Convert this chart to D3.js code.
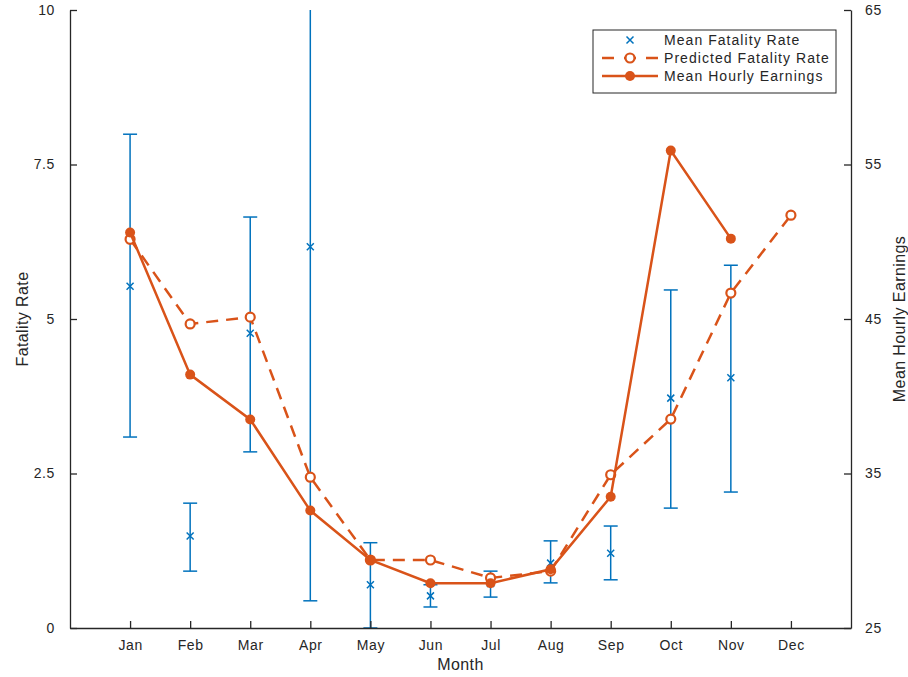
<!DOCTYPE html>
<html>
<head>
<meta charset="utf-8">
<script src="https://cdn.jsdelivr.net/npm/d3@7"></script>
<style>
  html, body { margin: 0; padding: 0; background: #fff; }
  svg { display: block; }
  text { font-family: "Liberation Sans", Arial, sans-serif; fill: #262626; }
</style>
</head>
<body>
<svg id="chart" width="908" height="677"></svg>
<script>
// Monthly series
const months = ["Jan","Feb","Mar","Apr","May","Jun","Jul","Aug","Sep","Oct","Nov","Dec"];

// Mean fatality rate with lower / upper error limits (left axis)
const meanFatality  = [5.53, 1.49, 4.77, 6.17, 0.70, 0.52, 0.72, 1.05, 1.21, 3.72, 4.05, null];
const fatalityLow   = [3.09, 0.92, 2.85, 0.44, 0.00, 0.34, 0.50, 0.73, 0.78, 1.94, 2.20, null];
const fatalityHigh  = [7.99, 2.02, 6.65, 11.9, 1.38, 0.70, 0.92, 1.41, 1.65, 5.47, 5.87, null];

// Predicted fatality rate (left axis)
const predictedFatality = [6.29, 4.92, 5.03, 2.44, 1.10, 1.10, 0.81, 0.92, 2.48, 3.38, 5.42, 6.68];

// Mean hourly earnings (right axis)
const hourlyEarnings = [50.6, 41.4, 38.5, 32.6, 29.4, 27.9, 27.9, 28.8, 33.5, 55.9, 50.2, null];

const leftTicks  = [0, 2.5, 5, 7.5, 10];
const rightTicks = [25, 35, 45, 55, 65];

const blue = "#0072BD";
const orange = "#D95319";

const svg = d3.select("#chart");
const margin = { left: 70, right: 57, top: 10, bottom: 49 };
const W = 908, H = 677;
const x0 = margin.left, x1 = W - margin.right;
const y0 = H - margin.bottom, y1 = margin.top;

const x = d3.scaleLinear().domain([0, 13]).range([x0, x1]);
const yL = d3.scaleLinear().domain([0, 10]).range([y0, y1]);
const yR = d3.scaleLinear().domain([25, 65]).range([y0, y1]);

svg.append("defs").append("clipPath").attr("id", "plotClip")
  .append("rect").attr("x", x0).attr("y", y1).attr("width", x1 - x0).attr("height", y0 - y1);

const plot = svg.append("g").attr("clip-path", "url(#plotClip)");

// Error bars and cross markers
const eb = months.map((m, i) => ({ i, v: meanFatality[i], lo: fatalityLow[i], hi: fatalityHigh[i] }))
  .filter(d => d.v != null);
const ebG = plot.append("g").attr("stroke", blue).attr("stroke-width", 1.5).attr("fill", "none");
eb.forEach(d => {
  const cx = x(d.i + 1);
  ebG.append("line").attr("x1", cx).attr("x2", cx).attr("y1", yL(d.lo)).attr("y2", yL(d.hi));
  [d.lo, d.hi].forEach(val => {
    ebG.append("line").attr("x1", cx - 7).attr("x2", cx + 7).attr("y1", yL(val)).attr("y2", yL(val));
  });
  const cy = yL(d.v), s = 3.5;
  ebG.append("path").attr("d", `M${cx - s},${cy - s}L${cx + s},${cy + s}M${cx - s},${cy + s}L${cx + s},${cy - s}`);
});

// Predicted fatality rate: dashed line with open circles
const predPts = predictedFatality.map((v, i) => ({ i, v })).filter(d => d.v != null);
plot.append("path")
  .datum(predPts)
  .attr("fill", "none").attr("stroke", orange).attr("stroke-width", 2.5)
  .attr("stroke-dasharray", "12,8")
  .attr("d", d3.line().x(d => x(d.i + 1)).y(d => yL(d.v)));
plot.append("g").selectAll("circle").data(predPts).join("circle")
  .attr("cx", d => x(d.i + 1)).attr("cy", d => yL(d.v)).attr("r", 4.5)
  .attr("fill", "#fff").attr("stroke", orange).attr("stroke-width", 2.2);

// Mean hourly earnings: solid line with filled circles
const earnPts = hourlyEarnings.map((v, i) => ({ i, v })).filter(d => d.v != null);
plot.append("path")
  .datum(earnPts)
  .attr("fill", "none").attr("stroke", orange).attr("stroke-width", 2.5)
  .attr("d", d3.line().x(d => x(d.i + 1)).y(d => yR(d.v)));
plot.append("g").selectAll("circle").data(earnPts).join("circle")
  .attr("cx", d => x(d.i + 1)).attr("cy", d => yR(d.v)).attr("r", 5)
  .attr("fill", orange);

// Axes (ticks point inward)
const tickFont = 14;
const bottomAxis = d3.axisBottom(x).tickValues(d3.range(1, 13))
  .tickFormat(d => months[d - 1]).tickSizeInner(-7).tickSizeOuter(0).tickPadding(12);
const gB = svg.append("g").attr("transform", `translate(0,${y0})`).call(bottomAxis);

const leftAxis = d3.axisLeft(yL).tickValues(leftTicks).tickFormat(d3.format("~g"))
  .tickSizeInner(-7).tickSizeOuter(0).tickPadding(15);
const gL = svg.append("g").attr("transform", `translate(${x0},0)`).call(leftAxis);

const rightAxis = d3.axisRight(yR).tickValues(rightTicks)
  .tickSizeInner(-7).tickSizeOuter(0).tickPadding(14);
const gR = svg.append("g").attr("transform", `translate(${x1},0)`).call(rightAxis);

[gB, gL, gR].forEach(g => {
  g.select(".domain").attr("stroke", "#262626").attr("stroke-width", 1.3);
  g.selectAll(".tick line").attr("stroke", "#262626").attr("stroke-width", 1.3);
  g.selectAll(".tick text").attr("font-size", tickFont).attr("fill", "#262626")
    .attr("font-family", "Liberation Sans, Arial, sans-serif").style("letter-spacing", "0.6px");
});

// Axis titles
svg.append("text").attr("x", (x0 + x1) / 2).attr("y", 670).attr("text-anchor", "middle")
  .attr("font-size", 16).style("letter-spacing", "0.4px").text("Month");
svg.append("text").attr("transform", `translate(28,${(y0 + y1) / 2}) rotate(-90)`)
  .attr("text-anchor", "middle").attr("font-size", 16).style("letter-spacing", "0.4px").text("Fatality Rate");
svg.append("text").attr("transform", `translate(905,${(y0 + y1) / 2}) rotate(-90)`)
  .attr("text-anchor", "middle").attr("font-size", 16).style("letter-spacing", "0.4px").text("Mean Hourly Earnings");

// Legend
const lg = svg.append("g");
lg.append("rect").attr("x", 593).attr("y", 30).attr("width", 243).attr("height", 63)
  .attr("fill", "#fff").attr("stroke", "#262626").attr("stroke-width", 1);
const lx0 = 602, lx1 = 658, lxm = (lx0 + lx1) / 2, tx = 664;
const rows = [40, 58, 76];
// cross
lg.append("path").attr("stroke", blue).attr("stroke-width", 1.5)
  .attr("d", `M${lxm - 3.5},${rows[0] - 3.5}L${lxm + 3.5},${rows[0] + 3.5}M${lxm - 3.5},${rows[0] + 3.5}L${lxm + 3.5},${rows[0] - 3.5}`);
// dashed with open circle
lg.append("line").attr("x1", lx0).attr("x2", lx1).attr("y1", rows[1]).attr("y2", rows[1])
  .attr("stroke", orange).attr("stroke-width", 2.5).attr("stroke-dasharray", "12,10");
lg.append("circle").attr("cx", lxm).attr("cy", rows[1]).attr("r", 4.5)
  .attr("fill", "#fff").attr("stroke", orange).attr("stroke-width", 2.2);
// solid with filled circle
lg.append("line").attr("x1", lx0).attr("x2", lx1).attr("y1", rows[2]).attr("y2", rows[2])
  .attr("stroke", orange).attr("stroke-width", 2.5);
lg.append("circle").attr("cx", lxm).attr("cy", rows[2]).attr("r", 5).attr("fill", orange);

const labels = ["Mean Fatality Rate", "Predicted Fatality Rate", "Mean Hourly Earnings"];
labels.forEach((t, k) => {
  lg.append("text").attr("x", tx).attr("y", rows[k]).attr("dy", "0.35em")
    .attr("font-size", 14).style("letter-spacing", "1.05px").text(t);
});
</script>
</body>
</html>
